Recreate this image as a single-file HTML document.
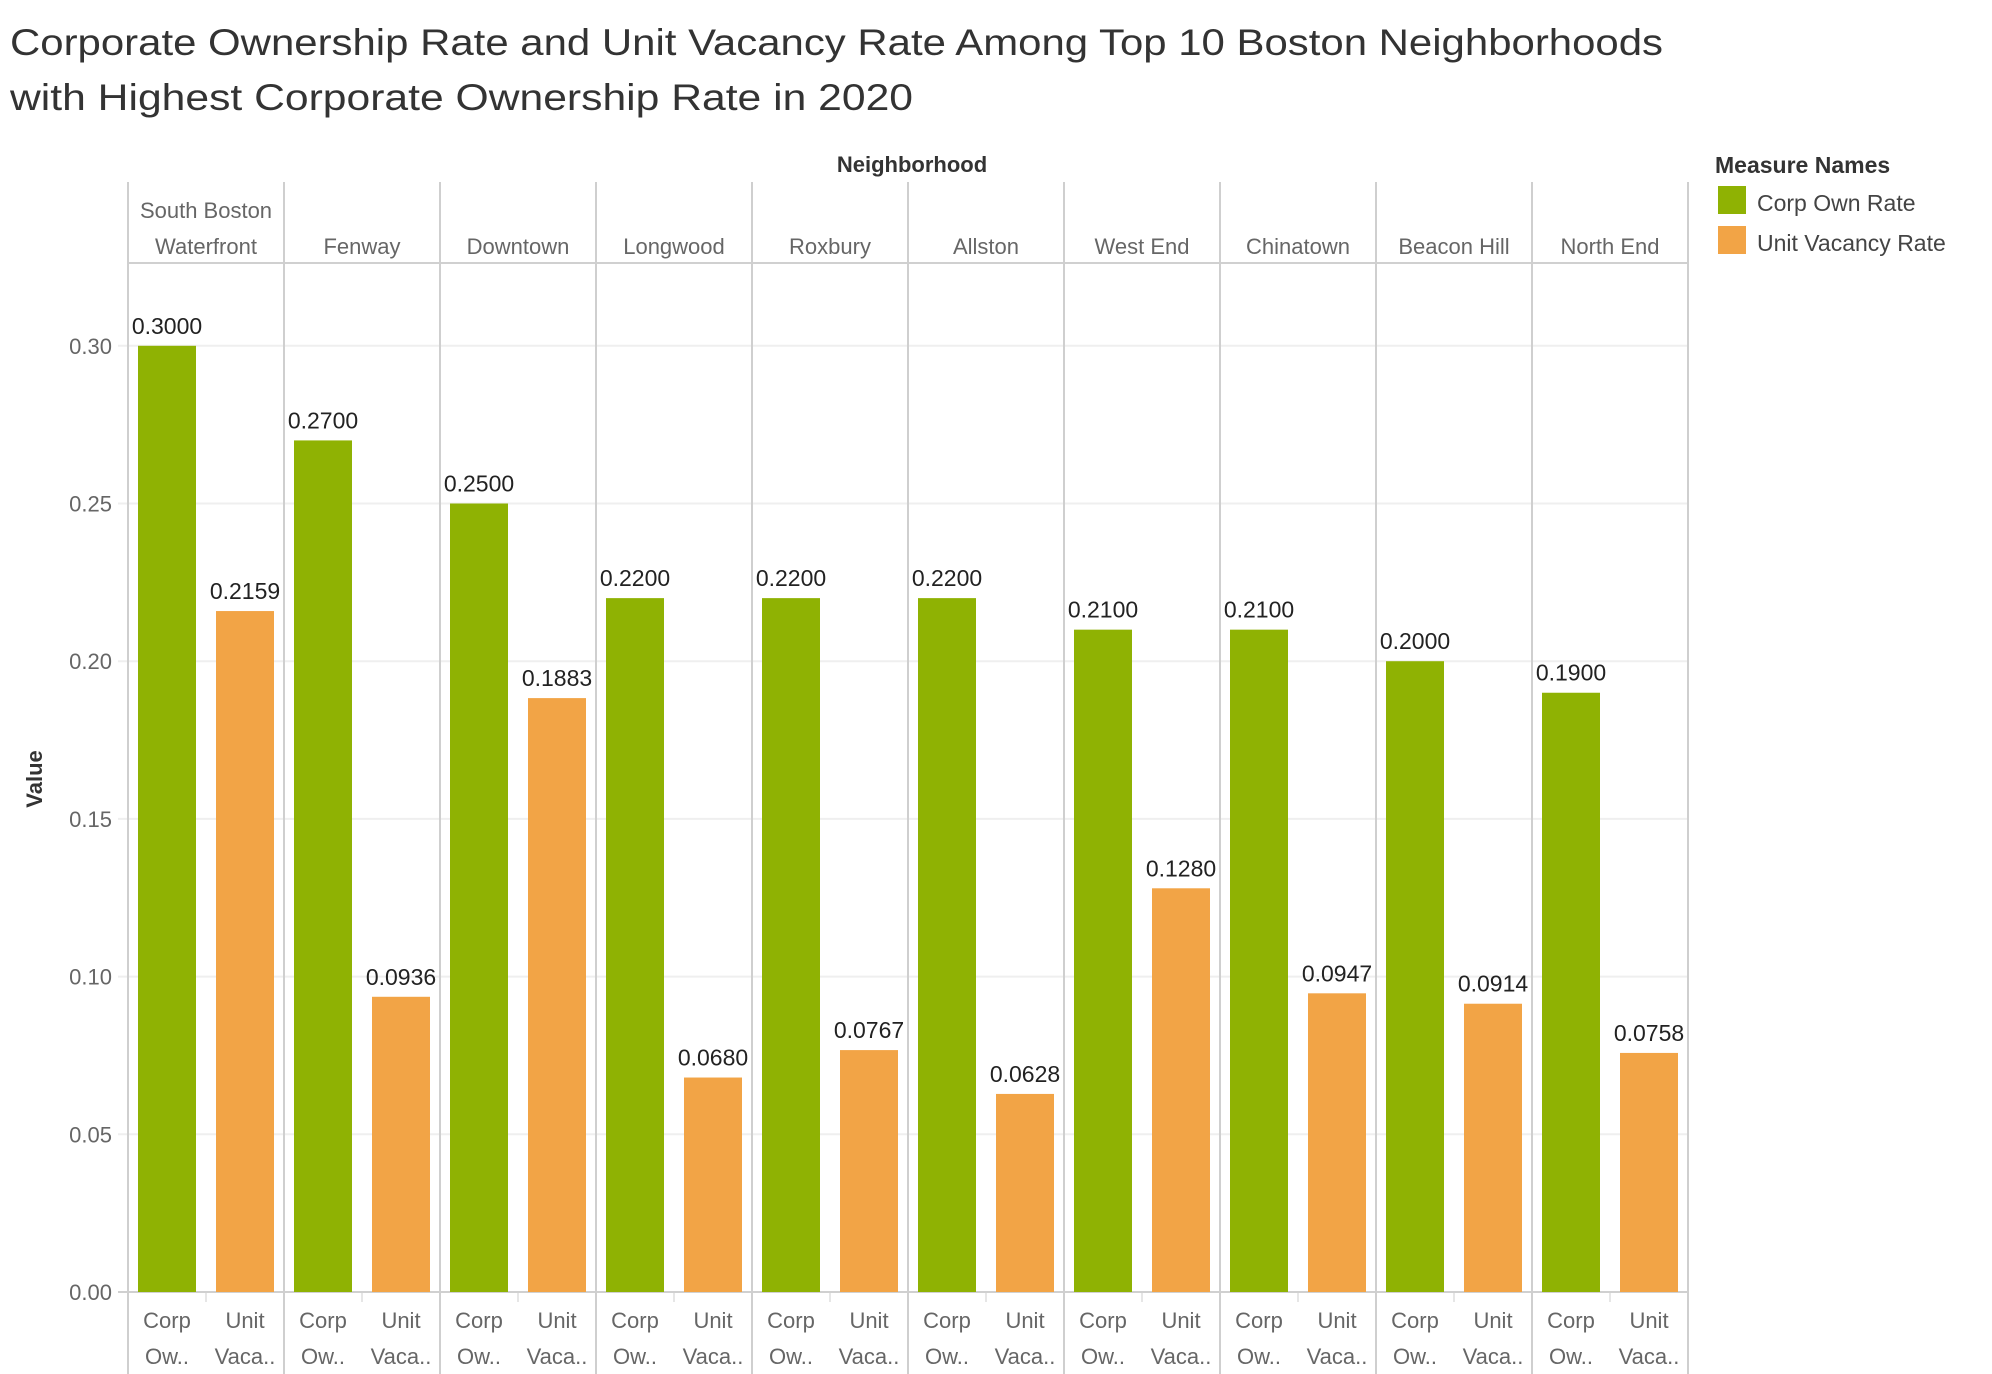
<!DOCTYPE html>
<html><head><meta charset="utf-8">
<style>
html,body{margin:0;padding:0;background:#fff;}
svg{display:block;font-family:"Liberation Sans",sans-serif;}
</style></head>
<body>
<svg id="chart" width="1992" height="1374" viewBox="0 0 1992 1374" xmlns="http://www.w3.org/2000/svg">
<text x="10" y="55" font-size="37" fill="#333" textLength="1653" lengthAdjust="spacingAndGlyphs">Corporate Ownership Rate and Unit Vacancy Rate Among Top 10 Boston Neighborhoods</text>
<text x="10" y="110" font-size="37" fill="#333" textLength="903" lengthAdjust="spacingAndGlyphs">with Highest Corporate Ownership Rate in 2020</text>
<text x="912" y="172" font-size="22" fill="#333" text-anchor="middle" font-weight="bold">Neighborhood</text>
<text x="0" y="0" font-size="22" fill="#333" font-weight="bold" text-anchor="middle" transform="translate(42,779) rotate(-90)">Value</text>
<g id="legend">
<text x="1715" y="173" font-size="23" fill="#333" font-weight="bold">Measure Names</text>
<rect x="1718" y="186" width="28" height="28" fill="#8fb203"/>
<text x="1757" y="211" font-size="23" fill="#444">Corp Own Rate</text>
<rect x="1718" y="226" width="28" height="28" fill="#f2a446"/>
<text x="1757" y="251" font-size="23" fill="#444">Unit Vacancy Rate</text>
</g>
<g id="plot"></g>
</svg>
<script>
const neighborhoods = ["South Boston Waterfront","Fenway","Downtown","Longwood","Roxbury","Allston","West End","Chinatown","Beacon Hill","North End"];
const corpOwnRate = [0.30,0.27,0.25,0.22,0.22,0.22,0.21,0.21,0.20,0.19];
const unitVacancyRate = [0.2159,0.0936,0.1883,0.0680,0.0767,0.0628,0.1280,0.0947,0.0914,0.0758];
const yTicks = [0,0.05,0.10,0.15,0.20,0.25,0.30];
const yTickLabels = ["0.00","0.05","0.10","0.15","0.20","0.25","0.30"];

const NS="http://www.w3.org/2000/svg";
const g=document.getElementById('plot');
const left=128, panelW=156, y0=1292, pxPerUnit=157.7/0.05;
const yScale=v=>y0-v*pxPerUnit;
const xPanel=i=>left+i*panelW;
function mk(tag,attrs,txt){const e=document.createElementNS(NS,tag);for(const k in attrs)e.setAttribute(k,attrs[k]);if(txt!==undefined)e.textContent=txt;g.appendChild(e);return e;}

yTicks.forEach((t,i)=>{
  const y=yScale(t);
  const gl=mk('line',{x1:118,x2:1688,y1:y,y2:y,stroke:i===0?'#d0d0d0':'#efefef','stroke-width':2});
  
  
  const tl=mk('text',{x:112,y:y+8,'font-size':22,fill:'#666','text-anchor':'end'},yTickLabels[i]);
  
  
});
const hb=mk('line',{x1:128,x2:1688,y1:263,y2:263,stroke:'#d0d0d0','stroke-width':2});



for(let i=0;i<=neighborhoods.length;i++){
  const x=xPanel(i);
  const dl=mk('line',{x1:x,x2:x,y1:182,y2:1374,stroke:'#cfcfcf','stroke-width':2});
  
  
}

neighborhoods.forEach((n,i)=>{
  const px=xPanel(i), cx=px+panelW/2;
  const words=n==="South Boston Waterfront"?["South Boston","Waterfront"]:[n];
  words.forEach((w,j)=>{
    const t=mk('text',{x:cx,y:words.length===2?(j===0?218:254):254,'font-size':22,fill:'#666','text-anchor':'middle'},w);
    
    
  });
  const vals=[corpOwnRate[i],unitVacancyRate[i]];
  const cols=['#8fb203','#f2a446'];
  const offs=[10,88];
  const lab1=['Corp','Unit'], lab2=['Ow..','Vaca..'];
  vals.forEach((v,k)=>{
    const bx=px+offs[k], by=yScale(v);
    const r=mk('rect',{x:bx,y:by,width:58,height:y0-by,fill:cols[k]});
    
    
    const vl=mk('text',{x:bx+29,y:by-12,'font-size':23,fill:'#222','text-anchor':'middle'},v.toFixed(4));
    
    
    const b1=mk('text',{x:bx+29,y:1328,'font-size':22,fill:'#666','text-anchor':'middle'},lab1[k]);
    
    
    const b2=mk('text',{x:bx+29,y:1364,'font-size':22,fill:'#666','text-anchor':'middle'},lab2[k]);
    
    
  });
  const tk=mk('line',{x1:px+78,x2:px+78,y1:1293,y2:1302,stroke:'#e6e6e6','stroke-width':2});
  
  
});
</script>
</body></html>
